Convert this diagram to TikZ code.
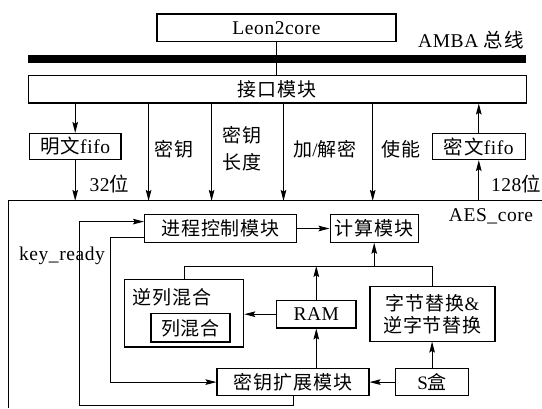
\documentclass[tikz,border=0pt]{standalone}
\usepackage{fontspec}
\setmainfont{Liberation Serif}[LetterSpace=3]
\newfontfamily\cjk{Noto Sans CJK SC}[LetterSpace=5]
\newcommand\zhs[1]{{\cjk #1}}
\usetikzlibrary{arrows.meta}
\begin{document}
\begin{tikzpicture}[x=1pt,y=-1pt, font=\fontsize{19}{22}\selectfont,
  box/.style={draw, line width=1.1pt, inner sep=0pt, minimum height=27.5pt},
  arr/.style={line width=1pt, -{Stealth[length=11pt,width=5.6pt,inset=1.8pt]}},
  ln/.style={line width=1pt},
  lat/.style={font=\fontsize{19.5}{22}\selectfont}]
\useasboundingbox (0,0) rectangle (542,408);
% top
\node[box, minimum width=239pt, lat] (leon) at (276.5,27.7) {Leon2core};
\node[fill=black, inner sep=0pt, minimum width=497.7pt, minimum height=7.6pt] (bus) at (277.2,59.1) {};
\node[box, minimum width=497.7pt] (iface) at (277.2,89.2) {\zhs{接口模块}};
\node[lat] (amba) at (471,39.8) {AMBA \zhs{总线}};
\draw[ln] (leon.south) -- (leon.south |- iface.north);
% fifos
\node[box, minimum width=91.6pt, minimum height=26pt, lat] (mw) at (75.2,146.5) {\zhs{明文}fifo};
\node[box, minimum width=93.5pt, minimum height=26pt, lat] (mwf) at (478.8,146.5) {\zhs{密文}fifo};
\draw[arr] (iface.south -| mw.north) -- (mw.north);
\draw[arr] (mwf.north) -- (iface.south -| mwf.north);
% AES core frame
\coordinate (aesTL) at (8.6,200.9);
\draw[line width=1.1pt] (8.6,408) -- (aesTL) -- (542,200.9);
\node[lat] (aeslbl) at (491,216.4) {AES\_core};
\draw[arr] (mw.south) -- (mw.south |- aesTL);
\draw[arr] (mwf.south |- aesTL) -- (mwf.south);
\node[anchor=west, lat] (b32) at (86,183.6) {32\zhs{位}};
\node[anchor=west, lat] (b128) at (487.5,183.6) {128\zhs{位}};
% control lines
\coordinate (k1) at (148.6,0);
\coordinate (k2) at (211.6,0);
\coordinate (k3) at (283.5,0);
\coordinate (k4) at (372.7,0);
\foreach \k in {k1,k2,k3,k4} \draw[arr] (iface.south -| \k) -- (aesTL -| \k);
\node (l1) at (174,149) {\zhs{密钥}};
\node[align=center, font=\fontsize{19}{27}\selectfont] (l2) at (242,149) {\zhs{密钥}\\\zhs{长度}};
\node (l3) at (325,149) {\zhs{加}/\zhs{解密}};
\node (l4) at (401,149) {\zhs{使能}};
% inner modules
\node[box, minimum width=152pt] (jc) at (220.5,228.5) {\zhs{进程控制模块}};
\node[box, minimum width=88.3pt] (js) at (374.2,228.5) {\zhs{计算模块}};
\draw[arr] (jc) -- (js);
\node[box, minimum width=119.2pt, minimum height=67.2pt] (nl) at (184.1,313.4) {};
\node (nltxt) at (171.8,297) {\zhs{逆列混合}};
\node[box, minimum width=79pt, minimum height=28.4pt] (lh) at (190.5,327.8) {\zhs{列混合}};
\node[box, minimum width=79.4pt, lat] (ram) at (316.3,314.2) {RAM};
\node[box, minimum width=125pt, minimum height=54.3pt, align=center] (zj) at (432.5,313.9) {\zhs{字节替换}\&\\\zhs{逆字节替换}};
\node[box, minimum width=152pt] (my) at (293,382.1) {\zhs{密钥扩展模块}};
\node[box, minimum width=72.6pt] (sb) at (432.1,382.1) {S\zhs{盒}};
% connectors
\coordinate (hl) at (0,266);
\draw[ln] (nl.north) -- (nl.north |- hl) -- (zj.north |- hl) -- (zj.north);
\draw[arr] (ram.north) -- (ram.north |- hl);
\draw[arr] (js.south |- hl) -- (js.south);
\draw[arr] (ram.west) -- (ram.west -| nl.east);
\draw[arr] (ram.south |- my.north) -- (ram.south);
\draw[arr] (sb.west) -- (my.east);
\draw[arr] (sb.north) -- (sb.north |- zj.south);
\coordinate (kr1) at (79.5,405);
\coordinate (k5) at (110.6,0);
\coordinate (jcU) at ([yshift=6.9pt]jc.west);
\coordinate (jcD) at ([yshift=-8.5pt]jc.west);
\draw[arr] (my.south) -- (my.south |- kr1) -- (kr1) -- (kr1 |- jcU) -- (jcU);
\draw[arr] (jcD) -- (jcD -| k5) -- (k5 |- my.west) -- (my.west);
\node[lat] (kr) at (62,255.6) {key\_ready};
\end{tikzpicture}
\end{document}
